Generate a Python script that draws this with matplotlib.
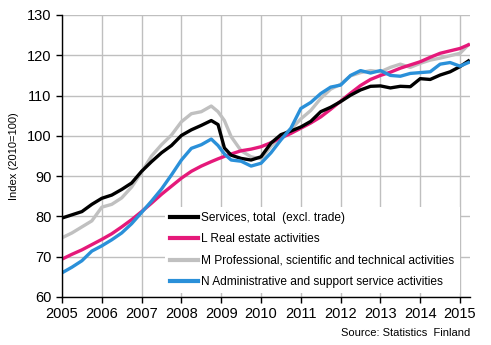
import matplotlib
matplotlib.use("Agg")
import matplotlib.pyplot as plt

plt.rcParams["font.family"] = ["Liberation Sans", "DejaVu Sans"]

# ==============================
# DATA (quarterly readings, index 2010=100)
# ==============================

years = [2005.00, 2005.25, 2005.50, 2005.75, 2006.00, 2006.25, 2006.50, 2006.75,
         2007.00, 2007.25, 2007.50, 2007.75, 2008.00, 2008.25, 2008.50, 2008.75,
         2008.92, 2009.08, 2009.25, 2009.50, 2009.75, 2010.00, 2010.25, 2010.50,
         2010.75, 2011.00, 2011.25, 2011.50, 2011.75, 2012.00, 2012.25, 2012.50,
         2012.75, 2013.00, 2013.25, 2013.50, 2013.75, 2014.00, 2014.25, 2014.50,
         2014.75, 2015.00, 2015.21]

services_total = [79.6, 80.4, 81.2, 83.0, 84.5, 85.3, 86.7, 88.3,
                  91.2, 93.6, 95.8, 97.6, 100.1, 101.5, 102.6, 103.8,
                  102.8, 97.0, 95.2, 94.4, 94.0, 94.8, 98.2, 100.3,
                  101.2, 102.2, 103.6, 106.0, 107.1, 108.5, 110.1, 111.4,
                  112.3, 112.4, 111.9, 112.3, 112.2, 114.2, 114.0, 115.1,
                  115.9, 117.2, 118.6]

real_estate = [69.4, 70.6, 71.7, 73.0, 74.3, 75.7, 77.4, 79.2,
               81.2, 83.3, 85.5, 87.5, 89.5, 91.2, 92.5, 93.6,
               94.3, 94.9, 95.5, 96.3, 96.7, 97.3, 98.3, 99.5,
               100.6, 101.9, 103.2, 104.7, 106.6, 108.6, 110.6, 112.5,
               114.0, 115.0, 115.8, 116.8, 117.6, 118.4, 119.5, 120.5,
               121.1, 121.7, 122.6]

professional = [74.7, 75.9, 77.4, 78.9, 82.3, 83.0, 84.6, 87.3,
                91.0, 95.0, 97.8, 100.2, 103.5, 105.5, 106.0, 107.4,
                106.0, 103.8, 99.8, 96.3, 94.8, 94.3, 97.4, 99.8,
                101.6, 104.2, 106.3, 109.3, 111.6, 112.8, 114.9, 115.7,
                116.2, 115.9, 117.0, 117.8, 117.0, 118.0, 118.8, 119.3,
                119.9, 120.5, 122.6]

administrative = [66.0, 67.4, 69.0, 71.4, 72.7, 74.2, 75.9, 78.2,
                  81.0, 83.8, 86.8, 90.3, 94.0, 96.9, 97.8, 99.2,
                  97.6, 95.5, 94.0, 93.7, 92.5, 93.2, 95.8, 99.0,
                  101.9, 106.8, 108.3, 110.5, 112.1, 112.6, 115.0, 116.2,
                  115.6, 116.2, 115.0, 114.8, 115.5, 115.7, 115.9, 117.8,
                  118.2, 117.3, 118.2]

labels = ["Services, total  (excl. trade)",
          "L Real estate activities",
          "M Professional, scientific and technical activities",
          "N Administrative and support service activities"]
year_ticks = list(range(2005, 2016))
value_ticks = list(range(60, 131, 10))

# ==============================
# FIGURE
# ==============================

fig = plt.figure(figsize=(4.91, 3.45), dpi=100)
ax = fig.add_axes([62 / 491, 1 - 297 / 345, 408 / 491, 282 / 345])

lw = 2.4
l_m, = ax.plot(years, professional, color="#c0c0c0", lw=lw)
l_l, = ax.plot(years, real_estate, color="#e5197a", lw=lw)
l_s, = ax.plot(years, services_total, color="black", lw=lw)
l_n, = ax.plot(years, administrative, color="#2a90d9", lw=lw)

ax.set_xlim(2005, 2015.25)
ax.set_ylim(60, 130)
ax.set_xticks(year_ticks)
ax.set_yticks(value_ticks)
ax.grid(True, color="#bfbfbf", lw=1)
ax.set_axisbelow(True)

for side in ["top", "right"]:
    ax.spines[side].set_visible(False)
ax.spines["left"].set_linewidth(1)
ax.spines["bottom"].set_linewidth(1)
ax.tick_params(axis="both", labelsize=10.5, length=4, width=1, direction="out")

ax.set_ylabel("Index (2010=100)", fontsize=8, labelpad=6)

leg = ax.legend([l_s, l_l, l_m, l_n], labels, loc="lower left",
                bbox_to_anchor=(0.243, 0.0), fontsize=8.6, frameon=True,
                handlelength=2.3, handletextpad=0.3, labelspacing=0.78,
                borderpad=0.45, borderaxespad=0.3)
leg.get_frame().set_edgecolor("none")
leg.get_frame().set_facecolor("white")
leg.get_frame().set_alpha(1)
leg.get_frame().set_boxstyle("square", pad=0)
for h in leg.get_lines():
    h.set_linewidth(3)

fig.text(470 / 491, 1 - 333 / 345, "Source: Statistics  Finland",
         ha="right", va="center", fontsize=8)

fig.savefig("out.png", dpi=100)
